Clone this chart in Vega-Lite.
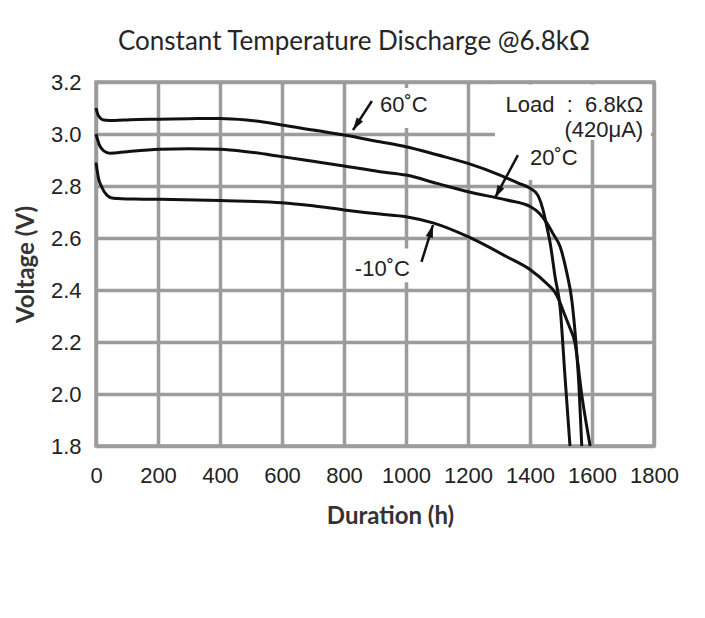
{
  "$schema": "https://vega.github.io/schema/vega-lite/v6.json",
  "width": 558,
  "height": 364,
  "autosize": {"type": "none"},
  "padding": {"left": 96, "top": 82, "right": 51, "bottom": 172},
  "background": "white",
  "title": {
    "text": "Constant Temperature Discharge @6.8kΩ",
    "font": "Lato",
    "fontSize": 26,
    "fontWeight": "normal",
    "color": "#262626",
    "dx": -21,
    "offset": 16
  },
  "config": {
    "view": {"stroke": "#9c9c9c", "strokeWidth": 3.5},
    "axis": {
      "grid": true,
      "gridColor": "#9c9c9c",
      "gridWidth": 3.5,
      "gridOpacity": 1,
      "domain": false,
      "ticks": false,
      "labelFont": "Liberation Sans",
      "labelFontSize": 22,
      "labelColor": "#222222",
      "labelFlush": false,
      "labelOverlap": false,
      "titleFont": "Lato",
      "titleFontWeight": "bold",
      "titleFontSize": 24,
      "titleColor": "#333333"
    }
  },
  "datasets": {
    "curves": [
      {"series": "60˚C", "hours": 0, "voltage": 3.10},
      {"series": "60˚C", "hours": 8, "voltage": 3.07},
      {"series": "60˚C", "hours": 25, "voltage": 3.054},
      {"series": "60˚C", "hours": 60, "voltage": 3.052},
      {"series": "60˚C", "hours": 110, "voltage": 3.055},
      {"series": "60˚C", "hours": 206, "voltage": 3.057},
      {"series": "60˚C", "hours": 300, "voltage": 3.059},
      {"series": "60˚C", "hours": 400, "voltage": 3.06},
      {"series": "60˚C", "hours": 486, "voltage": 3.054},
      {"series": "60˚C", "hours": 599, "voltage": 3.035},
      {"series": "60˚C", "hours": 700, "voltage": 3.015},
      {"series": "60˚C", "hours": 800, "voltage": 2.996},
      {"series": "60˚C", "hours": 916, "voltage": 2.97},
      {"series": "60˚C", "hours": 1000, "voltage": 2.951},
      {"series": "60˚C", "hours": 1100, "voltage": 2.92},
      {"series": "60˚C", "hours": 1200, "voltage": 2.887},
      {"series": "60˚C", "hours": 1303, "voltage": 2.842},
      {"series": "60˚C", "hours": 1360, "voltage": 2.812},
      {"series": "60˚C", "hours": 1402, "voltage": 2.79},
      {"series": "60˚C", "hours": 1425, "voltage": 2.765},
      {"series": "60˚C", "hours": 1442, "voltage": 2.708},
      {"series": "60˚C", "hours": 1455, "voltage": 2.64},
      {"series": "60˚C", "hours": 1465, "voltage": 2.581},
      {"series": "60˚C", "hours": 1481, "voltage": 2.45},
      {"series": "60˚C", "hours": 1497, "voltage": 2.335},
      {"series": "60˚C", "hours": 1513, "voltage": 2.065},
      {"series": "60˚C", "hours": 1529, "voltage": 1.80},
      {"series": "20˚C", "hours": 0, "voltage": 3.00},
      {"series": "20˚C", "hours": 10, "voltage": 2.96},
      {"series": "20˚C", "hours": 25, "voltage": 2.935},
      {"series": "20˚C", "hours": 45, "voltage": 2.926},
      {"series": "20˚C", "hours": 100, "voltage": 2.932},
      {"series": "20˚C", "hours": 206, "voltage": 2.941},
      {"series": "20˚C", "hours": 300, "voltage": 2.943},
      {"series": "20˚C", "hours": 400, "voltage": 2.941},
      {"series": "20˚C", "hours": 486, "voltage": 2.932},
      {"series": "20˚C", "hours": 599, "voltage": 2.913},
      {"series": "20˚C", "hours": 700, "voltage": 2.895},
      {"series": "20˚C", "hours": 800, "voltage": 2.877},
      {"series": "20˚C", "hours": 916, "voltage": 2.855},
      {"series": "20˚C", "hours": 1000, "voltage": 2.842},
      {"series": "20˚C", "hours": 1100, "voltage": 2.81},
      {"series": "20˚C", "hours": 1200, "voltage": 2.778},
      {"series": "20˚C", "hours": 1325, "voltage": 2.746},
      {"series": "20˚C", "hours": 1402, "voltage": 2.72},
      {"series": "20˚C", "hours": 1430, "voltage": 2.695},
      {"series": "20˚C", "hours": 1454, "voltage": 2.658},
      {"series": "20˚C", "hours": 1475, "voltage": 2.615},
      {"series": "20˚C", "hours": 1497, "voltage": 2.567},
      {"series": "20˚C", "hours": 1518, "voltage": 2.47},
      {"series": "20˚C", "hours": 1535, "voltage": 2.36},
      {"series": "20˚C", "hours": 1548, "voltage": 2.2},
      {"series": "20˚C", "hours": 1558, "voltage": 2.03},
      {"series": "20˚C", "hours": 1567, "voltage": 1.80},
      {"series": "-10˚C", "hours": 0, "voltage": 2.89},
      {"series": "-10˚C", "hours": 8, "voltage": 2.83},
      {"series": "-10˚C", "hours": 18, "voltage": 2.797},
      {"series": "-10˚C", "hours": 35, "voltage": 2.765},
      {"series": "-10˚C", "hours": 56, "voltage": 2.753},
      {"series": "-10˚C", "hours": 120, "voltage": 2.75},
      {"series": "-10˚C", "hours": 206, "voltage": 2.749},
      {"series": "-10˚C", "hours": 400, "voltage": 2.744},
      {"series": "-10˚C", "hours": 599, "voltage": 2.736},
      {"series": "-10˚C", "hours": 700, "voltage": 2.724},
      {"series": "-10˚C", "hours": 800, "voltage": 2.708},
      {"series": "-10˚C", "hours": 916, "voltage": 2.692},
      {"series": "-10˚C", "hours": 1000, "voltage": 2.682},
      {"series": "-10˚C", "hours": 1087, "voltage": 2.658},
      {"series": "-10˚C", "hours": 1200, "voltage": 2.605},
      {"series": "-10˚C", "hours": 1325, "voltage": 2.528},
      {"series": "-10˚C", "hours": 1402, "voltage": 2.477},
      {"series": "-10˚C", "hours": 1454, "voltage": 2.425},
      {"series": "-10˚C", "hours": 1481, "voltage": 2.39},
      {"series": "-10˚C", "hours": 1494, "voltage": 2.36},
      {"series": "-10˚C", "hours": 1506, "voltage": 2.323},
      {"series": "-10˚C", "hours": 1525, "voltage": 2.265},
      {"series": "-10˚C", "hours": 1545, "voltage": 2.196},
      {"series": "-10˚C", "hours": 1568, "voltage": 1.988},
      {"series": "-10˚C", "hours": 1594, "voltage": 1.80}
    ],
    "labelBoxes": [
      {"label": "Load", "x1": 1287, "x2": 1790, "y1": 2.977, "y2": 3.19},
      {"label": "20˚C", "x1": 1352, "x2": 1588, "y1": 2.823, "y2": 2.977},
      {"label": "60˚C", "x1": 930, "x2": 1070, "y1": 3.023, "y2": 3.177},
      {"label": "-10˚C", "x1": 835, "x2": 1040, "y1": 2.43, "y2": 2.56}
    ],
    "labels": [
      {"text": "60˚C", "hours": 916, "voltage": 3.112, "align": "left"},
      {"text": "20˚C", "hours": 1400, "voltage": 2.908, "align": "left"},
      {"text": "-10˚C", "hours": 835, "voltage": 2.481, "align": "left"},
      {"text": "Load\u00a0\u00a0:\u00a0\u00a06.8kΩ", "hours": 1765, "voltage": 3.112, "align": "right"},
      {"text": "(420μA)", "hours": 1765, "voltage": 3.015, "align": "right"}
    ],
    "arrows": [
      {"series": "60˚C", "tailH": 890, "tailV": 3.127, "headH": 829, "headV": 3.015},
      {"series": "20˚C", "tailH": 1361, "tailV": 2.919, "headH": 1287, "headV": 2.754},
      {"series": "-10˚C", "tailH": 1050, "tailV": 2.508, "headH": 1087, "headV": 2.65}
    ]
  },
  "encoding": {
    "x": {
      "type": "quantitative",
      "scale": {"domain": [0, 1800], "nice": false, "zero": false}
    },
    "y": {
      "type": "quantitative",
      "scale": {"domain": [1.8, 3.2], "nice": false, "zero": false}
    }
  },
  "layer": [
    {
      "data": {"name": "labelBoxes"},
      "mark": {"type": "rect", "fill": "white", "stroke": null},
      "encoding": {
        "x": {"field": "x1", "type": "quantitative", "axis": {"values": [0, 200, 400, 600, 800, 1000, 1200, 1400, 1600, 1800], "format": "d", "title": "Duration (h)", "labelPadding": 19, "titlePadding": 18, "titleX": 294}},
        "x2": {"field": "x2"},
        "y": {"field": "y1", "type": "quantitative", "axis": {"values": [1.8, 2.0, 2.2, 2.4, 2.6, 2.8, 3.0, 3.2], "format": ".1f", "title": "Voltage (V)", "labelPadding": 15, "titlePadding": 12}},
        "y2": {"field": "y2"}
      }
    },
    {
      "data": {"name": "curves"},
      "mark": {"type": "line", "color": "#111111", "strokeWidth": 3, "interpolate": "monotone"},
      "encoding": {
        "x": {"field": "hours", "type": "quantitative"},
        "y": {"field": "voltage", "type": "quantitative"},
        "detail": {"field": "series"}
      }
    },
    {
      "data": {"name": "arrows"},
      "mark": {"type": "rule", "color": "#111111", "strokeWidth": 2.5},
      "encoding": {
        "x": {"field": "tailH", "type": "quantitative"},
        "y": {"field": "tailV", "type": "quantitative"},
        "x2": {"field": "headH"},
        "y2": {"field": "headV"}
      }
    },
    {
      "data": {"name": "arrows"},
      "transform": [{"filter": "datum.series === '60˚C'"}],
      "mark": {"type": "point", "shape": "M0,0L-0.6,2L0.6,2Z", "filled": true, "color": "#111111", "size": 160, "angle": 213, "opacity": 1},
      "encoding": {
        "x": {"field": "headH", "type": "quantitative"},
        "y": {"field": "headV", "type": "quantitative"}
      }
    },
    {
      "data": {"name": "arrows"},
      "transform": [{"filter": "datum.series === '20˚C'"}],
      "mark": {"type": "point", "shape": "M0,0L-0.6,2L0.6,2Z", "filled": true, "color": "#111111", "size": 160, "angle": 208, "opacity": 1},
      "encoding": {
        "x": {"field": "headH", "type": "quantitative"},
        "y": {"field": "headV", "type": "quantitative"}
      }
    },
    {
      "data": {"name": "arrows"},
      "transform": [{"filter": "datum.series === '-10˚C'"}],
      "mark": {"type": "point", "shape": "M0,0L-0.6,2L0.6,2Z", "filled": true, "color": "#111111", "size": 160, "angle": 17, "opacity": 1},
      "encoding": {
        "x": {"field": "headH", "type": "quantitative"},
        "y": {"field": "headV", "type": "quantitative"}
      }
    },
    {
      "data": {"name": "labels"},
      "transform": [{"filter": "datum.align === 'left'"}],
      "mark": {"type": "text", "font": "Liberation Sans", "fontSize": 22, "color": "#222222", "align": "left", "baseline": "middle"},
      "encoding": {
        "x": {"field": "hours", "type": "quantitative"},
        "y": {"field": "voltage", "type": "quantitative"},
        "text": {"field": "text"}
      }
    },
    {
      "data": {"name": "labels"},
      "transform": [{"filter": "datum.align === 'right'"}],
      "mark": {"type": "text", "font": "Liberation Sans", "fontSize": 22, "color": "#222222", "align": "right", "baseline": "middle"},
      "encoding": {
        "x": {"field": "hours", "type": "quantitative"},
        "y": {"field": "voltage", "type": "quantitative"},
        "text": {"field": "text"}
      }
    }
  ]
}
